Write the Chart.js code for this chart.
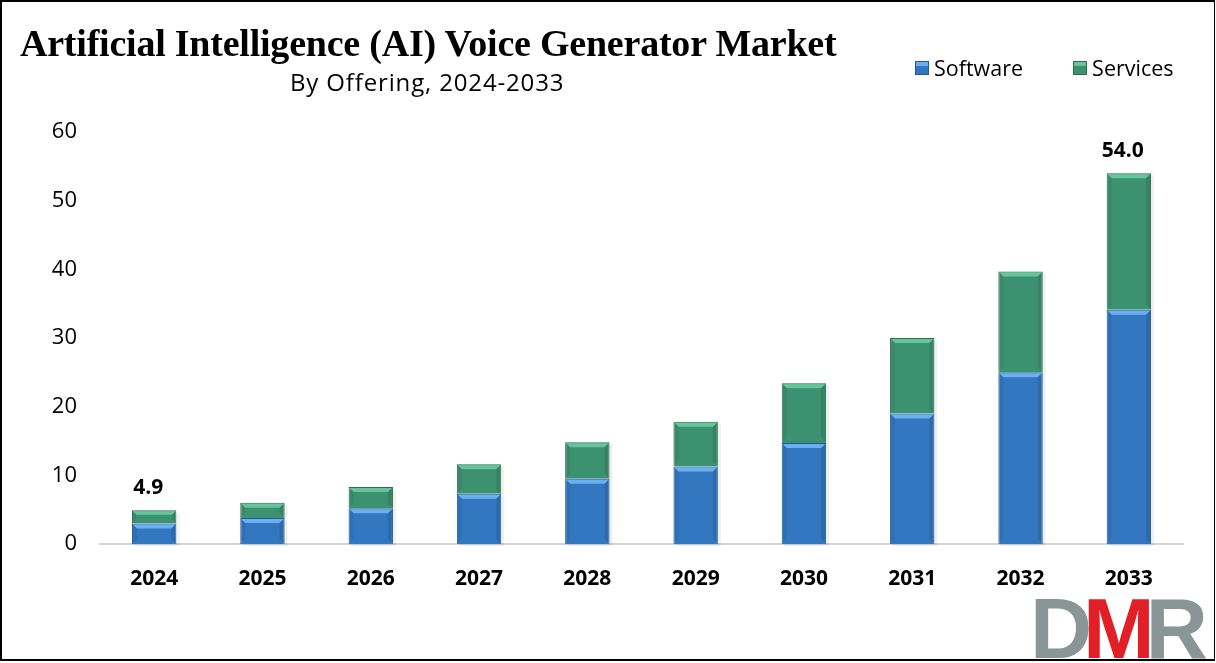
<!DOCTYPE html>
<html>
<head>
<meta charset="utf-8">
<script src="https://cdn.jsdelivr.net/npm/chart.js@4.4.1/dist/chart.umd.min.js"></script>
<style>
  html, body { margin: 0; padding: 0; background: #fff; }
  #wrap { position: relative; width: 1216px; height: 663px; overflow: hidden; background: #fff; }
  #c { position: absolute; left: 0; top: 0; }
  #title { position: absolute; left: 20px; top: 21px; font-family: "Liberation Serif", "Times New Roman", serif; font-weight: bold; font-size: 38px; color: #000; white-space: nowrap; letter-spacing: -0.22px; }
  #subtitle { position: absolute; left: 290px; top: 65px; font-family: "Open Sans", sans-serif; font-size: 24px; color: #000; white-space: nowrap; letter-spacing: 0.85px; }
  #legend { position: absolute; left: 915px; top: 53px; font-family: "Open Sans", sans-serif; font-size: 21.5px; color: #000; white-space: nowrap; display: flex; }
  #legend .item { display: flex; align-items: center; margin-right: 50px; }
  #legend .box { width: 14px; height: 14px; margin-right: 5px; box-sizing: border-box; }
  #logo { position: absolute; left: 1030px; top: 585px; font-family: "Liberation Sans", Arial, sans-serif; font-weight: bold; font-size: 86px; line-height: 1; letter-spacing: -9px; white-space: nowrap; }
  #frame { position: absolute; left: 0; top: 0; width: 1215px; height: 661px; box-sizing: border-box; border: 2px solid #000; border-right-width: 1px; pointer-events: none; }
</style>
</head>
<body>
<div id="wrap">
  <canvas id="c" width="1216" height="663"></canvas>
  <div id="title">Artificial Intelligence (AI) Voice Generator Market</div>
  <div id="subtitle">By Offering, 2024-2033</div>
  <div id="legend"></div>
  <div id="logo"><span style="color:#8a9595">D</span><span style="color:#e21f26">M</span><span style="color:#8a9595">R</span></div>
  <div id="frame"></div>
</div>
<script>
// ---- data ----
const years = ['2024', '2025', '2026', '2027', '2028', '2029', '2030', '2031', '2032', '2033'];
const software = [3.0, 3.8, 5.2, 7.3, 9.5, 11.3, 14.7, 19.0, 25.0, 34.1];
const services = [1.9, 2.2, 3.1, 4.3, 5.3, 6.5, 8.7, 11.0, 14.7, 19.9];
const valueLabels = ['4.9', '', '', '', '', '', '', '', '', '54.0'];
const seriesNames = ['Software', 'Services'];
const yTicks = [0, 10, 20, 30, 40, 50, 60];

const faceColors = ['#3277c0', '#3c9170'];
const edgeColors = ['#25598f', '#2a6a50'];
const lightColors = ['#6ab0f0', '#66c49c'];

// HTML legend built from series
const legendEl = document.getElementById('legend');
seriesNames.forEach((n, i) => {
  const it = document.createElement('div');
  it.className = 'item';
  const b = document.createElement('div');
  b.className = 'box';
  b.style.background = `linear-gradient(180deg, ${lightColors[i]} 0 35%, ${faceColors[i]} 35%)`;
  b.style.border = `1px solid ${edgeColors[i]}`;
  const t = document.createElement('span');
  t.textContent = n;
  it.appendChild(b); it.appendChild(t);
  legendEl.appendChild(it);
});

const bevelPlugin = {
  id: 'bevel',
  beforeDatasetsDraw(chart) {
    const ctx = chart.ctx;
    ctx.save();
    chart.data.datasets.forEach((ds, di) => {
      chart.getDatasetMeta(di).data.forEach(bar => {
        const w = bar.width, x0 = bar.x - w / 2;
        const top = Math.min(bar.y, bar.base), h = Math.abs(bar.base - bar.y);
        ctx.fillStyle = 'rgba(0,0,0,0.06)';
        ctx.fillRect(x0 + 2, top + 2, w + 1, h);
      });
    });
    ctx.restore();
  },
  afterDatasetsDraw(chart) {
    const ctx = chart.ctx;
    ctx.save();
    chart.data.datasets.forEach((ds, di) => {
      chart.getDatasetMeta(di).data.forEach(bar => {
        const w = bar.width, x0 = bar.x - w / 2, x1 = bar.x + w / 2;
        const top = Math.min(bar.y, bar.base), bot = Math.max(bar.y, bar.base);
        const h = bot - top;
        const b = Math.min(5, h / 3);
        // top light bevel
        ctx.fillStyle = lightColors[di];
        ctx.beginPath();
        ctx.moveTo(x0 + 1, top + 1); ctx.lineTo(x1 - 1, top + 1);
        ctx.lineTo(x1 - b, top + b); ctx.lineTo(x0 + b, top + b);
        ctx.closePath(); ctx.fill();
        // subtle side bevels
        ctx.fillStyle = 'rgba(0,0,0,0.06)';
        ctx.beginPath();
        ctx.moveTo(x0 + 1, top + 1); ctx.lineTo(x0 + b, top + b);
        ctx.lineTo(x0 + b, bot - b); ctx.lineTo(x0 + 1, bot - 1);
        ctx.closePath(); ctx.fill();
        ctx.fillStyle = 'rgba(0,0,0,0.10)';
        ctx.beginPath();
        ctx.moveTo(x1 - 1, top + 1); ctx.lineTo(x1 - b, top + b);
        ctx.lineTo(x1 - b, bot - b); ctx.lineTo(x1 - 1, bot - 1);
        ctx.closePath(); ctx.fill();
      });
    });
    // value labels on top of last dataset
    const lastMeta = chart.getDatasetMeta(chart.data.datasets.length - 1);
    ctx.fillStyle = '#000';
    ctx.font = 'bold 21px "Open Sans", sans-serif';
    ctx.textAlign = 'center';
    ctx.textBaseline = 'bottom';
    lastMeta.data.forEach((bar, i) => {
      if (valueLabels[i]) ctx.fillText(valueLabels[i], bar.x - 6, bar.y - 12);
    });
    ctx.restore();
  }
};

new Chart(document.getElementById('c'), {
  type: 'bar',
  data: {
    labels: years,
    datasets: [
      { label: seriesNames[0], data: software, backgroundColor: faceColors[0], borderColor: edgeColors[0], borderWidth: 1, barPercentage: 0.41, categoryPercentage: 1.0 },
      { label: seriesNames[1], data: services, backgroundColor: faceColors[1], borderColor: edgeColors[1], borderWidth: 1, barPercentage: 0.41, categoryPercentage: 1.0 }
    ]
  },
  options: {
    responsive: false,
    animation: false,
    layout: { padding: { top: 132, right: 33, left: 0, bottom: 0 } },
    plugins: {
      legend: { display: false },
      tooltip: { enabled: false }
    },
    scales: {
      x: {
        stacked: true,
        grid: { display: false },
        border: { display: true, color: '#d4d4d4', width: 2 },
        ticks: { color: '#000', padding: 14, font: { family: 'Open Sans', size: 21, weight: 'bold' } },
        afterFit(s) { s.height = 119; }
      },
      y: {
        stacked: true,
        min: 0, max: 60,
        afterBuildTicks(s) { s.ticks = yTicks.map(v => ({ value: v })); },
        grid: { display: false },
        border: { display: false },
        ticks: { color: '#000', padding: 15, font: { family: 'Open Sans', size: 22 } },
        afterFit(s) { s.width = 100; }
      }
    }
  },
  plugins: [bevelPlugin]
});
</script>
</body>
</html>
